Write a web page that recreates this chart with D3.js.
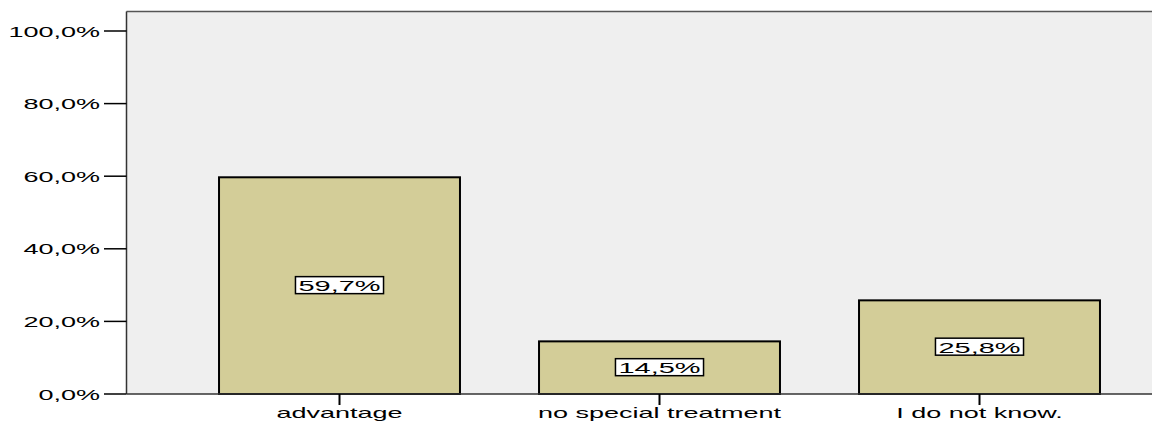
<!DOCTYPE html>
<html>
<head>
<meta charset="utf-8">
<script src="https://cdn.jsdelivr.net/npm/d3@7"></script>
<style>
  body { margin: 0; background: #ffffff; }
  text { font-family: "Liberation Sans", Arial, sans-serif; font-size: 14px; fill: #000; }
</style>
</head>
<body>
<script>
'use strict';

const categories = ["advantage", "no special treatment", "I do not know."];
const percents = [59.7, 14.5, 25.8];
const valueLabels = ["59,7%", "14,5%", "25,8%"];
const yTicks = [0, 20, 40, 60, 80, 100];
const yTickLabels = ["0,0%", "20,0%", "40,0%", "60,0%", "80,0%", "100,0%"];

(function () {
    const width = 1157, height = 421;
    const stretch = 1.93; // the original text is drawn wide

    const svg = d3.select('body')
        .append('svg')
        .attr('width', width)
        .attr('height', height);

    // plot frame
    const left = 126.5, right = 1152, top = 11.5, bottom = 394;

    const yScale = d3.scaleLinear()
        .domain([0, 100])
        .range([bottom, 31]);

    const xScale = d3.scaleBand()
        .domain(categories)
        .range([179.5, 1139.5])
        .paddingInner(0.247)
        .paddingOuter(0.1235);

    // wide text helper
    function wideText(g, x, y, str, anchor) {
        return g.append('text')
            .attr('transform', 'translate(' + x + ',' + y + ') scale(' + stretch + ',1)')
            .attr('text-anchor', anchor)
            .text(str);
    }

    // background
    svg.append('rect')
        .attr('x', left)
        .attr('y', top)
        .attr('width', right - left)
        .attr('height', bottom - top)
        .attr('fill', '#efefef');

    svg.append('line')
        .attr('x1', left).attr('x2', right)
        .attr('y1', top).attr('y2', top)
        .attr('stroke', '#555').attr('stroke-width', 1.5);

    // bars
    svg.selectAll('.bar')
        .data(percents)
        .enter()
        .append('rect')
        .attr('class', 'bar')
        .attr('x', (d, i) => xScale(categories[i]))
        .attr('y', d => yScale(d))
        .attr('width', xScale.bandwidth())
        .attr('height', d => bottom - yScale(d))
        .attr('fill', '#d3cd98')
        .attr('stroke', '#000')
        .attr('stroke-width', 2);

    // y axis
    const yAxis = svg.append('g');
    yAxis.append('line')
        .attr('x1', left).attr('x2', left)
        .attr('y1', top).attr('y2', bottom)
        .attr('stroke', '#333').attr('stroke-width', 1.5);
    yTicks.forEach((t, i) => {
        const y = yScale(t);
        yAxis.append('line')
            .attr('x1', 104).attr('x2', left)
            .attr('y1', y).attr('y2', y)
            .attr('stroke', '#000').attr('stroke-width', 1.5);
        wideText(yAxis, 100, y + 5.5, yTickLabels[i], 'end');
    });

    // x axis
    const xAxis = svg.append('g');
    xAxis.append('line')
        .attr('x1', left).attr('x2', right)
        .attr('y1', bottom).attr('y2', bottom)
        .attr('stroke', '#333').attr('stroke-width', 1.5);
    categories.forEach(c => {
        const cx = xScale(c) + xScale.bandwidth() / 2;
        xAxis.append('line')
            .attr('x1', cx).attr('x2', cx)
            .attr('y1', bottom).attr('y2', bottom + 11)
            .attr('stroke', '#000').attr('stroke-width', 2);
        wideText(xAxis, cx, 418, c, 'middle');
    });

    // value labels in boxes
    percents.forEach((p, i) => {
        const cx = xScale(categories[i]) + xScale.bandwidth() / 2;
        const cy = (yScale(p) + bottom) / 2;
        const g = svg.append('g');
        const t = wideText(g, cx, cy + 5.5, valueLabels[i], 'middle')
            .style('font-size', '15px');
        const w = t.node().getBBox().width * stretch + 6;
        g.insert('rect', 'text')
            .attr('x', cx - w / 2)
            .attr('y', cy - 9)
            .attr('width', w)
            .attr('height', 17)
            .attr('fill', '#fff')
            .attr('stroke', '#000')
            .attr('stroke-width', 1.5);
    });
})();
</script>
</body>
</html>
